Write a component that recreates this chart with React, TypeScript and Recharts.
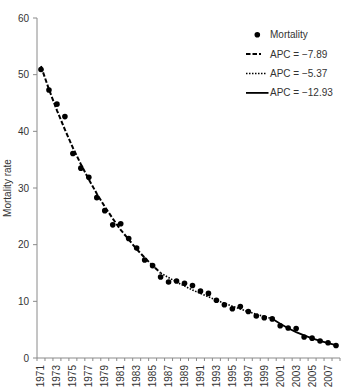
import React from 'react';
import { ComposedChart, Line, XAxis, YAxis, Legend } from 'recharts';

// Observed years and mortality rates
const years = [
  1971, 1972, 1973, 1974, 1975, 1976, 1977, 1978, 1979, 1980,
  1981, 1982, 1983, 1984, 1985, 1986, 1987, 1988, 1989, 1990,
  1991, 1992, 1993, 1994, 1995, 1996, 1997, 1998, 1999, 2000,
  2001, 2002, 2003, 2004, 2005, 2006, 2007, 2008,
];

const mortality = [
  50.9, 47.3, 44.8, 42.6, 36.1, 33.5, 31.9, 28.3, 26.0, 23.5,
  23.7, 21.1, 19.4, 17.3, 16.3, 14.3, 13.4, 13.6, 13.2, 12.8,
  11.8, 11.4, 10.2, 9.4, 8.7, 9.1, 8.2, 7.4, 7.1, 6.9,
  5.7, 5.3, 5.2, 3.7, 3.5, 3.0, 2.7, 2.2,
];

// Joinpoint segments: fitted values, one per year from each segment's start year
const segment1Start = 1971;
const segment1Fit = [51.5, 47.4, 43.7, 40.3, 37.1, 34.2, 31.5, 29.0, 26.7, 24.6, 22.6, 20.9, 19.2, 17.7, 16.3, 15.0];
const segment2Start = 1986;
const segment2Fit = [15.0, 14.2, 13.4, 12.7, 12.0, 11.4, 10.8, 10.2, 9.65, 9.13, 8.64, 8.17, 7.73, 7.32, 6.93];
const segment3Start = 2000;
const segment3Fit = [6.93, 6.03, 5.25, 4.57, 3.98, 3.47, 3.02, 2.63, 2.29];

const seriesNames = ['Mortality', 'APC = \u22127.89', 'APC = \u22125.37', 'APC = \u221212.93'];

const labelYears = [
  1971, 1973, 1975, 1977, 1979, 1981, 1983, 1985, 1987, 1989,
  1991, 1993, 1995, 1997, 1999, 2001, 2003, 2005, 2007,
];
const yTicks = [0, 10, 20, 30, 40, 50, 60];

const pick = (fit: number[], start: number, year: number) => {
  const i = year - start;
  return i >= 0 && i < fit.length ? fit[i] : null;
};

const data = years.map((year, i) => ({
  year,
  rate: mortality[i],
  fit1: pick(segment1Fit, segment1Start, year),
  fit2: pick(segment2Fit, segment2Start, year),
  fit3: pick(segment3Fit, segment3Start, year),
}));

// Category boundaries for the tick marks (ticks sit between years)
const boundaries = [...years.map((y) => y - 0.5), years[years.length - 1] + 0.5];

const WIDTH = 345;
const HEIGHT = 390;
const Y_AXIS_W = 37;
const RIGHT = 5;
const STEP = (WIDTH - Y_AXIS_W - RIGHT) / years.length;

const TEXT = '#333333';
const AXIS = '#8a8a8a';
const FONT = '"Liberation Sans", Arial, sans-serif';

const XTick = (props: any) => {
  const { x, y, payload } = props;
  const year = Math.round(Number(payload.value) + 0.5);
  if (!labelYears.includes(year)) return <g />;
  const cx = Number(x) + STEP / 2;
  const cy = Number(y);
  return (
    <g transform={`translate(${cx},${cy})`}>
      <g transform="rotate(-90)">
        <text
          x={0}
          y={0}
          dy="0.35em"
          textAnchor="end"
          fontSize={10}
          fill={TEXT}
          fontFamily={FONT}
        >
          {String(year)}
        </text>
      </g>
    </g>
  );
};

const lineStyles = [
  { dash: '4.5 2', width: 2 },
  { dash: '1.5 1.5', width: 1.6 },
  { dash: undefined as string | undefined, width: 1.8 },
];

const LegendBox = () => {
  const rowH = 19.4;
  const first = 10.7;
  return (
    <svg width={100} height={80} style={{ overflow: 'visible', display: 'block' }}>
      {seriesNames.map((name, i) => {
        const cy = first + i * rowH;
        const st = i > 0 ? lineStyles[i - 1] : null;
        return (
          <g key={name}>
            {i === 0 ? (
              <circle cx={13.3} cy={cy} r={2.8} fill="#000" />
            ) : (
              <line
                x1={2}
                x2={i === 1 ? 17 : i === 2 ? 22.5 : 24.5}
                y1={cy}
                y2={cy}
                stroke="#000"
                strokeWidth={st!.width}
                strokeDasharray={st!.dash}
              />
            )}
            <text x={26} y={cy} dy="0.35em" fontSize={10} fill={TEXT} fontFamily={FONT}>
              {name}
            </text>
          </g>
        );
      })}
    </svg>
  );
};

export default function App() {
  return (
    <div style={{ position: 'absolute', left: 0, top: 0, fontFamily: FONT }}>
      <ComposedChart
        width={WIDTH}
        height={HEIGHT}
        data={data}
        margin={{ top: 18, right: RIGHT, bottom: 0, left: 0 }}
      >
        <XAxis
          dataKey="year"
          type="number"
          domain={[boundaries[0], boundaries[boundaries.length - 1]]}
          ticks={boundaries}
          interval={0}
          height={32}
          tickSize={3}
          tickMargin={4}
          stroke={AXIS}
          tick={XTick}
          allowDecimals
        />
        <YAxis
          type="number"
          domain={[0, 60]}
          ticks={yTicks}
          interval={0}
          width={Y_AXIS_W}
          tickSize={4}
          tickMargin={4}
          stroke={AXIS}
          tick={{ fill: TEXT, fontSize: 10, fontFamily: FONT }}
          label={{
            value: 'Mortality rate',
            angle: -90,
            position: 'insideLeft',
            offset: 7.5,
            textAnchor: 'middle',
            fill: TEXT,
            fontSize: 10,
            fontFamily: FONT,
          }}
        />
        <Legend
          layout="horizontal"
          verticalAlign="middle"
          align="center"
          wrapperStyle={{ left: 244, top: 24, width: 100, height: 80 }}
          content={<LegendBox />}
        />
        <Line
          dataKey="fit1"
          name={seriesNames[1]}
          stroke="#000"
          strokeWidth={lineStyles[0].width}
          strokeDasharray={lineStyles[0].dash}
          dot={false}
          activeDot={false}
          connectNulls={false}
          isAnimationActive={false}
        />
        <Line
          dataKey="fit2"
          name={seriesNames[2]}
          stroke="#000"
          strokeWidth={lineStyles[1].width}
          strokeDasharray={lineStyles[1].dash}
          dot={false}
          activeDot={false}
          connectNulls={false}
          isAnimationActive={false}
        />
        <Line
          dataKey="fit3"
          name={seriesNames[3]}
          stroke="#000"
          strokeWidth={lineStyles[2].width}
          dot={false}
          activeDot={false}
          connectNulls={false}
          isAnimationActive={false}
        />
        <Line
          dataKey="rate"
          name={seriesNames[0]}
          stroke="none"
          dot={{ r: 2.8, fill: '#000', stroke: 'none' }}
          activeDot={false}
          isAnimationActive={false}
        />
      </ComposedChart>
    </div>
  );
}
